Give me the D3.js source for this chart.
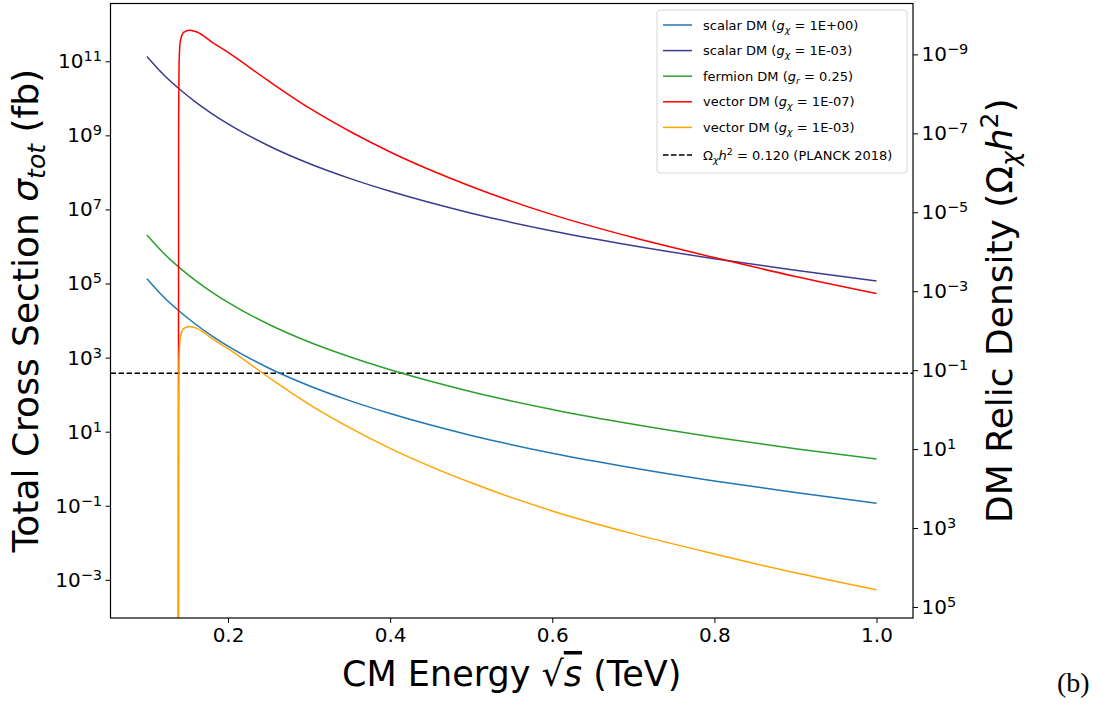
<!DOCTYPE html>
<html>
<head>
<meta charset="utf-8">
<script src="https://cdn.jsdelivr.net/npm/d3@7"></script>
<style>
  body { margin: 0; background: #fff; }
  text { font-family: "DejaVu Sans", sans-serif; fill: #000; }
</style>
</head>
<body>
<svg id="chart" width="1102" height="709"></svg>
<script>
// CM energy sqrt(s) in TeV
const energy = [0.1, 0.12, 0.14, 0.16, 0.18, 0.2, 0.25, 0.3, 0.35, 0.4, 0.5, 0.6, 0.7, 0.8, 0.9, 1.0];
// vector DM opens at threshold, so it gets a finer grid near the edge
const energyVector = [0.1387, 0.139, 0.1395, 0.14, 0.1412, 0.1452, 0.1526, 0.1617, 0.18, 0.2, 0.25, 0.3, 0.35, 0.4, 0.5, 0.6, 0.7, 0.8, 0.9, 1.0];

// total cross sections in fb
const scalarG1 = [1.35e5, 4.47e4, 1.78e4, 7.94e3, 3.89e3, 2.04e3, 525, 174, 69, 30.9, 7.94, 2.63, 1.05, 0.468, 0.229, 0.117];
const scalarG3 = [1.35e11, 4.47e10, 1.78e10, 7.94e9, 3.89e9, 2.04e9, 5.25e8, 1.74e8, 6.9e7, 3.09e7, 7.94e6, 2.63e6, 1.05e6, 4.68e5, 2.29e5, 1.17e5];
const fermion = [2.04e6, 6.76e5, 2.69e5, 1.2e5, 5.89e4, 3.09e4, 7.94e3, 2.63e3, 1.05e3, 468, 120, 39.8, 15.8, 7.08, 3.47, 1.82];
const vectorG7 = [1e-8, 2.0e9, 6.31e10, 1.585e11, 3.548e11, 6.026e11, 6.918e11, 6.166e11, 3.311e11, 1.738e11, 2.95e10, 5.5e9, 1.29e9, 3.55e8, 4.17e7, 7.24e6, 1.74e6, 5.01e5, 1.55e5, 5.37e4];
const vectorG3 = [1e-8, 20, 631, 1585, 3548, 6026, 6918, 6166, 3311, 1738, 295, 55, 12.9, 3.55, 0.417, 0.0724, 0.0174, 0.00501, 0.00155, 0.000537];

const planckOmega = 0.120;

const xTicks = [0.2, 0.4, 0.6, 0.8, 1.0];
const leftExps = [-3, -1, 1, 3, 5, 7, 9, 11];
const rightExps = [-9, -7, -5, -3, -1, 1, 3, 5];

const svg = d3.select("#chart");
const plot = { left: 110.5, right: 913, top: 3.5, bottom: 618 };

const x = d3.scaleLinear().domain([0.055, 1.045]).range([plot.left, plot.right]);
const y = d3.scaleLog().domain([Math.pow(10, -4.03), Math.pow(10, 12.56)]).range([plot.bottom, plot.top]);
const yRight = d3.scaleLog().domain([Math.pow(10, -10.29), Math.pow(10, 5.28)]).range([plot.top, plot.bottom]);

svg.append("defs").append("clipPath").attr("id", "clip")
  .append("rect")
  .attr("x", plot.left).attr("y", plot.top)
  .attr("width", plot.right - plot.left).attr("height", plot.bottom - plot.top);

const series = [
  { label: "scalarG1", xs: energy, ys: scalarG1, color: "#1f77b4" },
  { label: "scalarG3", xs: energy, ys: scalarG3, color: "#3b3b8f" },
  { label: "fermion", xs: energy, ys: fermion, color: "#2ca02c" },
  { label: "vectorG7", xs: energyVector, ys: vectorG7, color: "#ff0000" },
  { label: "vectorG3", xs: energyVector, ys: vectorG3, color: "#ffa500" }
];

const line = d3.line()
  .x(d => x(d[0]))
  .y(d => y(d[1]))
  .curve(d3.curveMonotoneX);

const lines = svg.append("g").attr("clip-path", "url(#clip)");

// planck line lives on the right axis
lines.append("line")
  .attr("x1", plot.left).attr("x2", plot.right)
  .attr("y1", yRight(planckOmega)).attr("y2", yRight(planckOmega))
  .style("stroke", "#000")
  .style("stroke-width", 1.3)
  .style("stroke-dasharray", "5.5,2.5");

series.forEach(s => {
  lines.append("path")
    .datum(s.xs.map((v, i) => [v, s.ys[i]]))
    .attr("d", line)
    .style("fill", "none")
    .style("stroke", s.color)
    .style("stroke-width", 1.5);
});

// power-of-ten label with superscript
function powLabel(sel) {
  sel.each(function(d) {
    const e = Math.round(Math.log10(d));
    const t = d3.select(this).text(null);
    t.append("tspan").text("10");
    t.append("tspan").attr("dy", -7).style("font-size", "14.5px")
      .text(e < 0 ? "\u2212" + (-e) : e);
  });
}

const xAxis = svg.append("g")
  .attr("transform", `translate(0,${plot.bottom})`)
  .call(d3.axisBottom(x).tickValues(xTicks).tickFormat(d3.format(".1f")).tickSize(5).tickSizeOuter(0).tickPadding(5));
xAxis.selectAll("text").style("font-size", "20px");

const leftAxis = svg.append("g")
  .attr("transform", `translate(${plot.left},0)`)
  .call(d3.axisLeft(y).tickValues(leftExps.map(e => Math.pow(10, e))).tickSize(5).tickSizeOuter(0).tickPadding(3.5));
leftAxis.selectAll("text").style("font-size", "20px").call(powLabel);

const rightAxis = svg.append("g")
  .attr("transform", `translate(${plot.right},0)`)
  .call(d3.axisRight(yRight).tickValues(rightExps.map(e => Math.pow(10, e))).tickSize(5).tickSizeOuter(0).tickPadding(3.5));
rightAxis.selectAll("text").style("font-size", "20px").call(powLabel);

svg.selectAll(".domain").remove();
svg.selectAll(".tick line").style("stroke", "#000").style("stroke-width", 1);

svg.append("rect")
  .attr("x", plot.left).attr("y", plot.top)
  .attr("width", plot.right - plot.left).attr("height", plot.bottom - plot.top)
  .style("fill", "none").style("stroke", "#000").style("stroke-width", 1.2);

// axis titles
const xLabel = svg.append("text")
  .attr("x", (plot.left + plot.right) / 2).attr("y", 686)
  .attr("text-anchor", "middle").style("font-size", "35px");
xLabel.append("tspan").text("CM Energy \u221A");
xLabel.append("tspan").style("font-style", "italic").style("text-decoration", "overline").text("s");
xLabel.append("tspan").text(" (TeV)");

const yLabel = svg.append("text")
  .attr("transform", `translate(38,${(plot.top + plot.bottom) / 2}) rotate(-90)`)
  .attr("text-anchor", "middle").style("font-size", "36px");
yLabel.append("tspan").text("Total Cross Section ");
yLabel.append("tspan").style("font-style", "italic").text("\u03C3");
yLabel.append("tspan").style("font-style", "italic").style("font-size", "25px").attr("dy", 7).text("tot");
yLabel.append("tspan").attr("dy", -7).text(" (fb)");

const y2Label = svg.append("text")
  .attr("transform", `translate(1012,${(plot.top + plot.bottom) / 2}) rotate(-90)`)
  .attr("text-anchor", "middle").style("font-size", "36px");
y2Label.append("tspan").text("DM Relic Density (\u03A9");
y2Label.append("tspan").style("font-style", "italic").style("font-size", "25px").attr("dy", 7).text("\u03C7");
y2Label.append("tspan").style("font-style", "italic").attr("dy", -7).text("h");
y2Label.append("tspan").style("font-size", "25px").attr("dy", -14).text("2");
y2Label.append("tspan").attr("dy", 14).text(")");

// legend
const legendItems = [
  { color: "#1f77b4", pre: "scalar DM (", sym: "g", sub: "\u03C7", post: " = 1E+00)" },
  { color: "#3b3b8f", pre: "scalar DM (", sym: "g", sub: "\u03C7", post: " = 1E-03)" },
  { color: "#2ca02c", pre: "fermion DM (", sym: "g", sub: "r", post: " = 0.25)" },
  { color: "#ff0000", pre: "vector DM (", sym: "g", sub: "\u03C7", post: " = 1E-07)" },
  { color: "#ffa500", pre: "vector DM (", sym: "g", sub: "\u03C7", post: " = 1E-03)" }
];

const legend = svg.append("g");
legend.append("rect")
  .attr("x", 657).attr("y", 10).attr("width", 250).attr("height", 163)
  .attr("rx", 3)
  .style("fill", "#fff").style("fill-opacity", 0.8)
  .style("stroke", "#d6d6d6").style("stroke-width", 1);

legendItems.forEach((it, i) => {
  const ly = 25 + i * 25.6;
  legend.append("line")
    .attr("x1", 663).attr("x2", 692).attr("y1", ly).attr("y2", ly)
    .style("stroke", it.color).style("stroke-width", 1.5);
  const t = legend.append("text").attr("x", 703).attr("y", ly + 4.5).style("font-size", "13px");
  t.append("tspan").text(it.pre);
  t.append("tspan").style("font-style", "italic").text(it.sym);
  t.append("tspan").style("font-style", "italic").style("font-size", "9.5px").attr("dy", 3).text(it.sub);
  t.append("tspan").attr("dy", -3).text(it.post);
});

const py = 25 + 5 * 25.6 + 2;
legend.append("line")
  .attr("x1", 663).attr("x2", 692).attr("y1", py).attr("y2", py)
  .style("stroke", "#000").style("stroke-width", 1.3).style("stroke-dasharray", "5.5,2.5");
const pt = legend.append("text").attr("x", 703).attr("y", py + 4.5).style("font-size", "13px");
pt.append("tspan").text("\u03A9");
pt.append("tspan").style("font-style", "italic").style("font-size", "9.5px").attr("dy", 3).text("\u03C7");
pt.append("tspan").style("font-style", "italic").attr("dy", -3).text("h");
pt.append("tspan").style("font-size", "9.5px").attr("dy", -5).text("2");
pt.append("tspan").attr("dy", 5).text(" = 0.120 (PLANCK 2018)");

svg.append("text")
  .attr("x", 1057).attr("y", 692)
  .style("font-family", "'Liberation Serif', serif").style("font-size", "28px")
  .text("(b)");
</script>
</body>
</html>
